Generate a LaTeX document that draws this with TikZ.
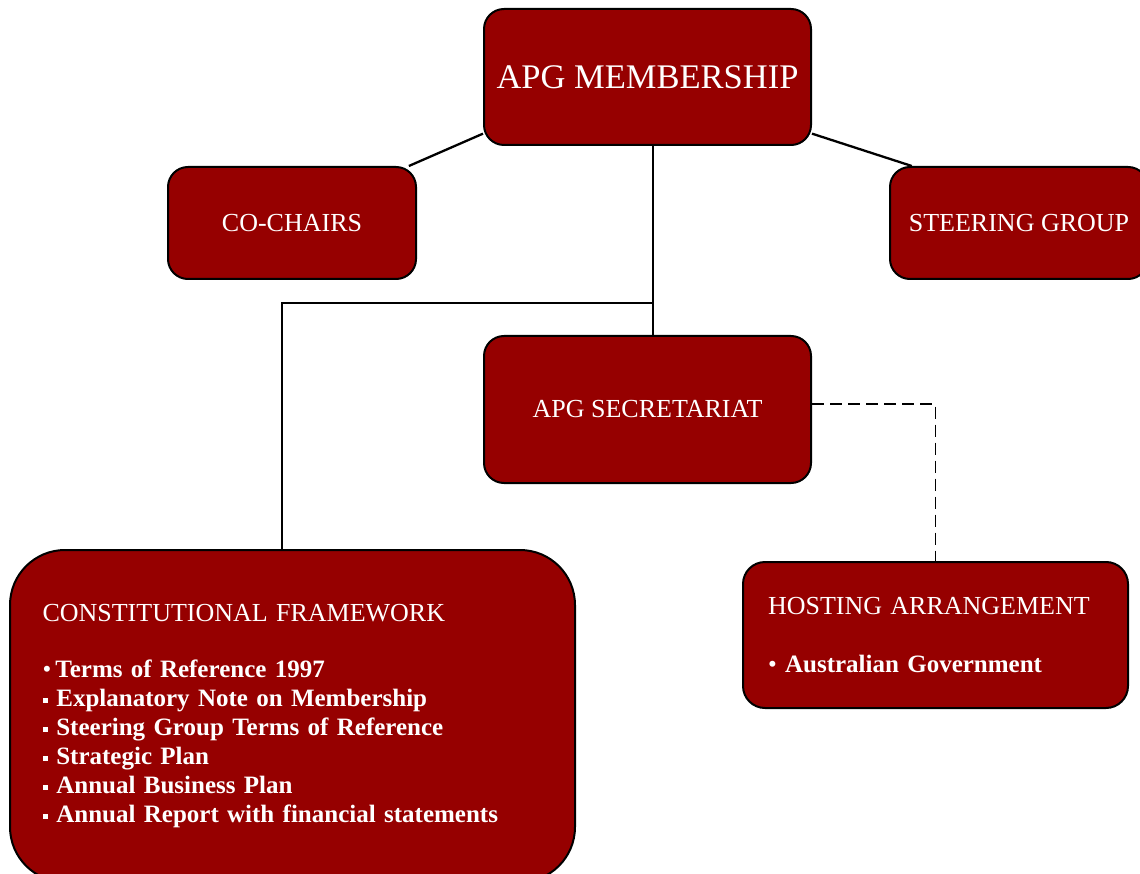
\documentclass[tikz,border=0pt]{standalone}
\usepackage{fontspec}
\setmainfont{Liberation Serif}
\usetikzlibrary{positioning}
\definecolor{apgred}{RGB}{150,0,0}
\newcommand{\sqbul}{\rule[0.3ex]{0.22em}{0.22em}}

\begin{document}
\begin{tikzpicture}[
    x=1pt, y=-1pt,
    unit/.style={draw=black, line width=2pt, fill=apgred, text=white, rounded corners=#1, inner sep=0pt, align=center, font=\fontsize{26}{29}\selectfont},
    unit/.default=20pt,
    link/.style={line width=2.3pt}
]
    \useasboundingbox (0,0) rectangle (1140,874);

    % Top level
    \node[unit, minimum width=327pt, minimum height=136pt, font=\fontsize{34.5}{38}\selectfont] (mem) at (647.5,77) {APG MEMBERSHIP};
    \node[unit, minimum width=248pt, minimum height=112pt] (cochairs) at (292,223) {CO-CHAIRS};
    \node[unit, minimum width=258pt, minimum height=112pt] (steer) at (1019,223) {STEERING GROUP};
    \node[unit, minimum width=327pt, minimum height=147pt] (sec) at (647.5,409.5) {APG SECRETARIAT};

    % Lower boxes
    \node[unit=55pt, minimum width=565pt, minimum height=332pt, text width=500pt, align=left, font=\fontsize{25}{29}\selectfont] (const) at (292.5,716) {{\fontsize{26}{29}\selectfont CONSTITUTIONAL FRAMEWORK}\\[27pt]
        \textbullet\,\textbf{Terms of Reference 1997}\\
        \sqbul\ \textbf{Explanatory Note on Membership}\\
        \sqbul\ \textbf{Steering Group Terms of Reference}\\
        \sqbul\ \textbf{Strategic Plan}\\
        \sqbul\ \textbf{Annual Business Plan}\\
        \sqbul\ \textbf{Annual Report with financial statements}};
    \node[unit=22pt, minimum width=385pt, minimum height=146pt, text width=335pt, align=left, font=\fontsize{25}{29}\selectfont] (host) at (935.5,635) {{\fontsize{26}{29}\selectfont HOSTING ARRANGEMENT}\\[29pt]
        \textbullet\ \textbf{Australian Government}};

    % Connectors
    \draw[link] (mem.199) -- (cochairs.26);
    \draw[link] (mem.-19) -- (steer.152);
    \draw[link] ([xshift=5.5pt]mem.south) -- ([xshift=5.5pt]sec.north);
    \path ([xshift=5.5pt]mem.south) ++(0,157) coordinate (split);
    \draw[link] (split) -| ([xshift=-10.5pt]const.north);
    \draw[line width=1.8pt, dash pattern=on 12pt off 6pt] ([yshift=5.5pt]sec.east) -| (host.north);
\end{tikzpicture}
\end{document}
